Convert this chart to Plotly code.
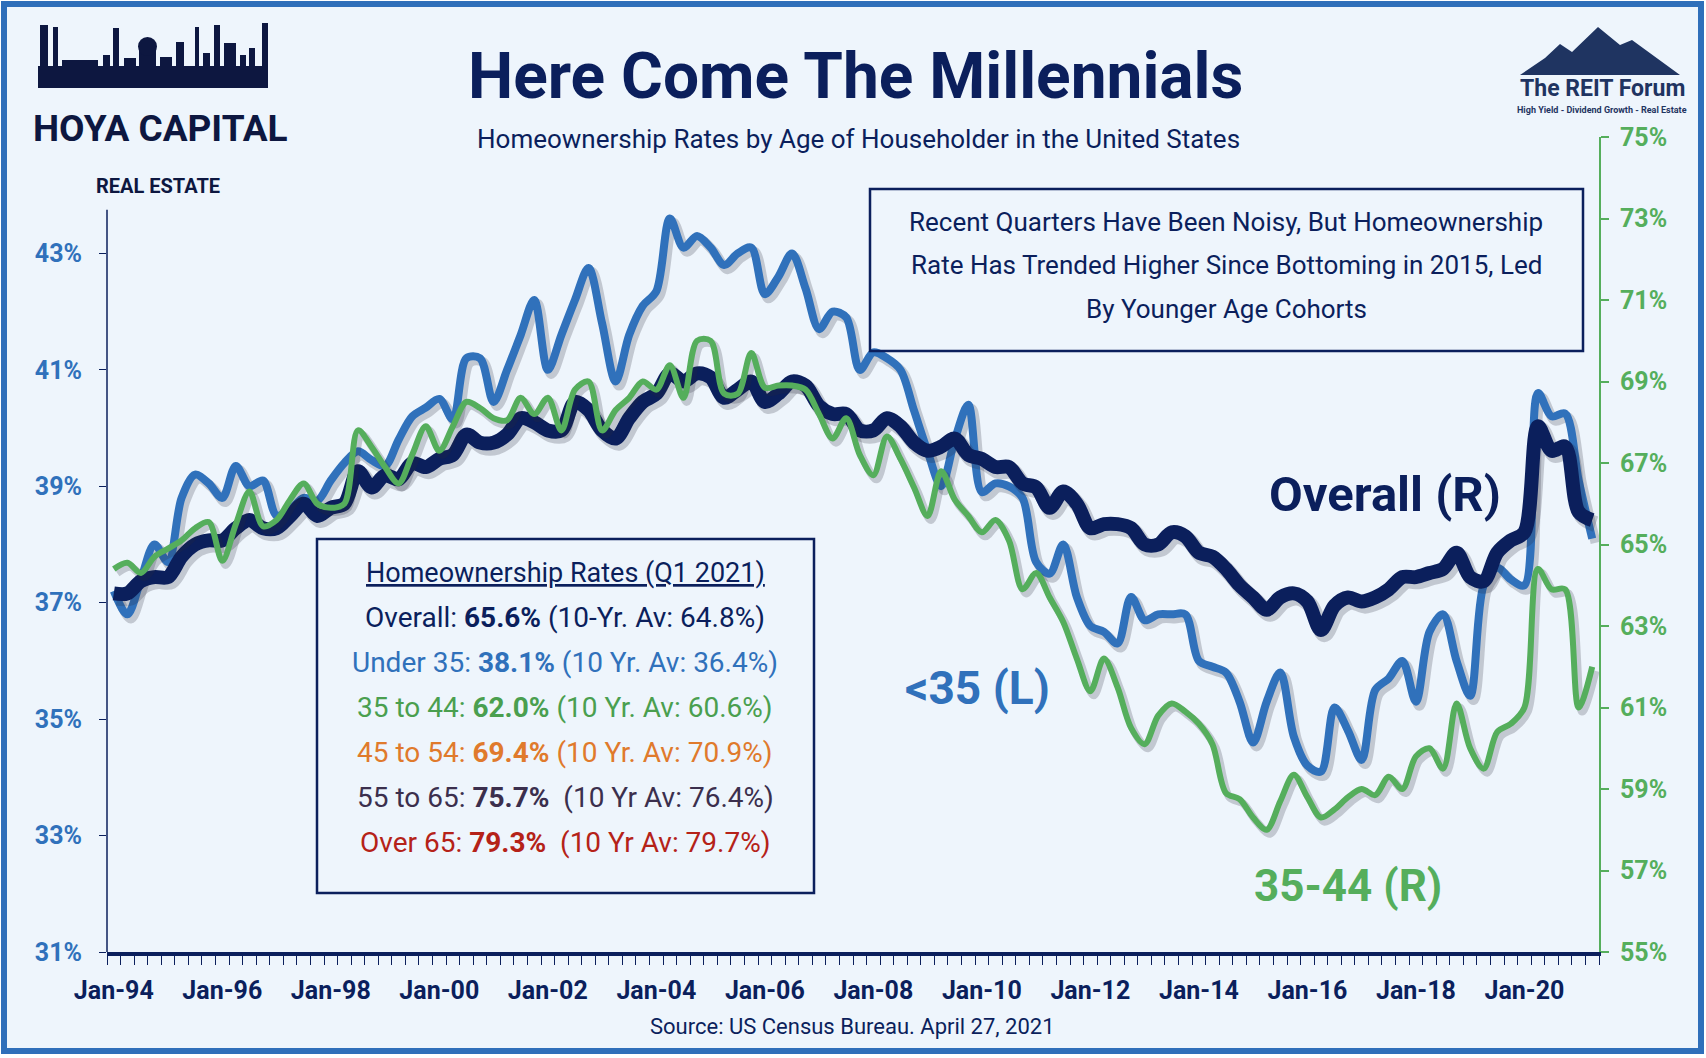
import plotly.graph_objects as go

# ---- data (quarterly) ----
quarter_idx = list(range(110))

overall = [
    63.8, 63.8, 64.1, 64.2, 64.2, 64.7, 65.0, 65.1, 65.1, 65.4,
    65.6, 65.4, 65.4, 65.7, 66.0, 65.7, 65.9, 66.0, 66.8, 66.4,
    66.7, 66.6, 67.0, 66.9, 67.1, 67.2, 67.7, 67.5, 67.5, 67.7,
    68.1, 68.0, 67.8, 67.8, 68.5, 68.3, 67.8, 67.6, 68.1, 68.5,
    68.7, 69.2, 69.0, 69.2, 69.1, 68.6, 68.8, 69.0, 68.5, 68.7,
    69.0, 68.9, 68.4, 68.2, 68.2, 67.8, 67.8, 68.1, 67.9, 67.5,
    67.3, 67.4, 67.6, 67.2, 67.1, 66.9, 66.9, 66.5, 66.4, 65.9,
    66.3, 66.0, 65.4, 65.5, 65.5, 65.4, 65.0, 65.0, 65.3, 65.2,
    64.8, 64.7, 64.4, 64.0, 63.7, 63.4, 63.7, 63.8, 63.6, 62.9,
    63.5, 63.7, 63.6, 63.7, 63.9, 64.2, 64.2, 64.3, 64.4, 64.8,
    64.2, 64.1, 64.8, 65.1, 65.3, 67.9, 67.3, 67.4, 65.8, 65.6,
]

under_35 = [
    37.2, 36.8, 37.4, 38.0, 37.7, 38.8, 39.2, 39.05, 38.8, 39.35,
    39.0, 39.1, 38.5, 38.6, 38.8, 38.75, 39.1, 39.4, 39.6, 39.45,
    39.35, 39.8, 40.2, 40.35, 40.5, 40.15, 41.2, 41.2, 40.45, 41.0,
    41.6, 42.2, 41.0, 41.6, 42.2, 42.75, 41.8, 40.8, 41.6, 42.1,
    42.35, 43.6, 43.1, 43.3, 43.1, 42.8, 43.0, 43.1, 42.3, 42.6,
    43.0, 42.4, 41.7, 42.0, 41.9, 41.0, 41.3, 41.2, 41.0, 40.3,
    39.6, 39.0, 39.8, 40.4, 38.9, 39.05, 39.0, 38.8, 37.7, 37.5,
    38.0, 37.1, 36.6, 36.5, 36.3, 37.1, 36.7, 36.8, 36.8, 36.8,
    36.0, 35.9, 35.8, 35.3, 34.6, 35.3, 35.8, 34.7, 34.2, 34.1,
    35.2, 34.8, 34.3, 35.5, 35.7, 36.0, 35.3, 36.5, 36.8, 36.0,
    35.4, 37.3, 37.6, 37.4, 37.3, 40.6, 40.2, 40.25, 39.1, 38.1,
]

age_35_44 = [
    64.4, 64.55, 64.3, 64.7, 64.9, 65.1, 65.4, 65.55, 64.6, 65.5,
    66.3, 65.45, 65.6, 66.1, 66.5, 66.0, 65.9, 66.0, 67.8, 67.4,
    66.9, 66.5, 67.2, 67.9, 67.3, 67.9, 68.5, 68.35, 68.1, 68.05,
    68.6, 68.2, 68.6, 67.8, 68.8, 69.0, 67.8, 68.3, 68.6, 69.0,
    68.8, 69.4, 68.6, 70.0, 70.0, 68.7, 68.7, 69.7, 68.85, 68.9,
    68.9, 68.8, 68.2, 67.6, 68.1, 67.2, 66.7, 67.65, 67.1, 66.4,
    65.7, 66.8, 66.1, 65.7, 65.3, 65.6, 65.1, 63.9, 64.3, 63.7,
    63.1, 62.2, 61.4, 62.2, 61.5, 60.5, 60.1, 60.8, 61.1, 60.9,
    60.6, 60.1, 58.9, 58.75, 58.3, 58.0, 58.7, 59.35, 58.8, 58.3,
    58.5, 58.8, 59.0, 58.85, 59.3, 59.0, 59.8, 60.0, 59.5, 61.1,
    60.0, 59.5, 60.4, 60.6, 61.0, 64.4, 63.9, 63.9, 61.0, 62.0,
]

x_label_pos = list(range(0, 105, 8))
x_labels = ["Jan-94", "Jan-96", "Jan-98", "Jan-00", "Jan-02", "Jan-04", "Jan-06",
            "Jan-08", "Jan-10", "Jan-12", "Jan-14", "Jan-16", "Jan-18", "Jan-20"]
left_ticks = [31, 33, 35, 37, 39, 41, 43]
right_ticks = [55, 57, 59, 61, 63, 65, 67, 69, 71, 73, 75]

table_groups = ["Overall", "Under 35", "35 to 44", "45 to 54", "55 to 65", "Over 65"]
table_current = [65.6, 38.1, 62.0, 69.4, 75.7, 79.3]
table_avg = [64.8, 36.4, 60.6, 70.9, 76.4, 79.7]
table_avg_label = ["10-Yr. Av", "10 Yr. Av", "10 Yr. Av", "10 Yr. Av", "10 Yr Av", "10 Yr Av"]

note_lines = ["Recent Quarters Have Been Noisy, But Homeownership",
              "Rate Has Trended Higher Since Bottoming in 2015, Led",
              "By Younger Age Cohorts"]

# ---- styles ----
W, H = 1706, 1058
NAVY = "#0b1f5c"
BLUE = "#3071bb"
GREEN = "#55ae5c"
GREEN_TXT = "#4a9f4f"
ORANGE = "#e07a2c"
PURPLE = "#3b2f4d"
RED = "#b52218"
LOGO = "#0d1740"
FONT = "Roboto, Liberation Sans, sans-serif"
SHADOW = "rgba(40,40,60,0.22)"


def px(x):
    return x / W


def py(y):
    return 1 - y / H


fig = go.Figure()

# shadows first, then lines (blue on left axis, navy + green on right axis)
fig.add_trace(go.Scatter(x=[q + 0.25 for q in quarter_idx], y=[v - 0.07 for v in under_35],
                         mode="lines", line=dict(color=SHADOW, width=10, shape="spline", smoothing=0.9),
                         hoverinfo="skip", yaxis="y"))
fig.add_trace(go.Scatter(x=quarter_idx, y=under_35, mode="lines", name="<35",
                         line=dict(color=BLUE, width=8, shape="spline", smoothing=0.9), yaxis="y"))
fig.add_trace(go.Scatter(x=[q + 0.25 for q in quarter_idx], y=[v - 0.1 for v in overall],
                         mode="lines", line=dict(color=SHADOW, width=16, shape="spline", smoothing=0.9),
                         hoverinfo="skip", yaxis="y2"))
fig.add_trace(go.Scatter(x=quarter_idx, y=overall, mode="lines", name="Overall",
                         line=dict(color=NAVY, width=14, shape="spline", smoothing=0.9), yaxis="y2"))
fig.add_trace(go.Scatter(x=[q + 0.25 for q in quarter_idx], y=[v - 0.1 for v in age_35_44],
                         mode="lines", line=dict(color=SHADOW, width=8, shape="spline", smoothing=0.9),
                         hoverinfo="skip", yaxis="y2"))
fig.add_trace(go.Scatter(x=quarter_idx, y=age_35_44, mode="lines", name="35-44",
                         line=dict(color=GREEN, width=6, shape="spline", smoothing=0.9), yaxis="y2"))

shapes = [
    # outer frame
    dict(type="rect", xref="paper", yref="paper", x0=px(4), x1=px(1701), y0=py(1051), y1=py(4),
         line=dict(color="#2f6fba", width=6), fillcolor="#eef5fc", layer="below"),
    # left axis line (top hidden behind the logo in the original)
    dict(type="line", xref="paper", yref="y", x0=px(107), x1=px(107), y0=31, y1=43.75,
         line=dict(color=NAVY, width=1.5)),
    # note box
    dict(type="rect", xref="paper", yref="paper", x0=px(870), x1=px(1583), y0=py(351), y1=py(189),
         line=dict(color=NAVY, width=2.5)),
    # table box
    dict(type="rect", xref="paper", yref="paper", x0=px(317), x1=px(814), y0=py(893), y1=py(539),
         line=dict(color=NAVY, width=2.5)),
]

# skyline of the logo: base band plus towers (x0, x1, top) in pixels
shapes.append(dict(type="rect", xref="paper", yref="paper", x0=px(38), x1=px(268),
                   y0=py(88), y1=py(66), fillcolor=LOGO, line=dict(width=0)))
skyline = [(40, 48, 25), (53, 58, 27), (62, 98, 60), (103, 110, 55),
           (113, 119, 28), (124, 136, 58), (139, 156, 46), (160, 172, 57), (176, 184, 42),
           (195, 199, 27), (203, 210, 53), (214, 220, 25), (224, 236, 43), (240, 246, 55),
           (249, 255, 48), (262, 268, 23)]
path = ""
for x0, x1, top in skyline:
    path += f"M{px(x0)},{py(67)} L{px(x0)},{py(top)} L{px(x1)},{py(top)} L{px(x1)},{py(67)} Z "
shapes.append(dict(type="path", xref="paper", yref="paper", path=path,
                   fillcolor=LOGO, line=dict(width=0)))
# capitol dome
shapes.append(dict(type="circle", xref="paper", yref="paper", x0=px(138), x1=px(157),
                   y0=py(56), y1=py(37), fillcolor=LOGO, line=dict(width=0)))

# mountain logo
mpts = [(1520, 75), (1545, 58), (1560, 44), (1572, 52), (1598, 27), (1620, 45), (1632, 40), (1680, 75)]
mpath = "M" + " L".join(f"{px(a)},{py(b)}" for a, b in mpts) + " Z"
shapes.append(dict(type="path", xref="paper", yref="paper", path=mpath,
                   fillcolor="#1f3461", line=dict(width=0)))

annotations = []


def note(text, x, y, size, color, bold=False):
    annotations.append(dict(text=f"<b>{text}</b>" if bold else text, x=px(x), y=py(y),
                            xref="paper", yref="paper", showarrow=False,
                            xanchor="center", yanchor="middle",
                            font=dict(family=FONT, size=size, color=color)))


note("Here Come The Millennials", 855, 76, 64, NAVY, bold=True)
note("Homeownership Rates by Age of Householder in the United States", 858, 139, 26, NAVY)
note("Source: US Census Bureau. April 27, 2021", 852, 1026, 22, NAVY)

note("HOYA CAPITAL", 160, 128, 37, LOGO, bold=True)
note("REAL ESTATE", 158, 186, 20, LOGO, bold=True)
note("The REIT Forum", 1602, 88, 23, "#1f3461", bold=True)
note("High Yield - Dividend Growth - Real Estate", 1602, 110, 9, "#1f3461", bold=True)

for line, yy in zip(note_lines, [222, 265, 309]):
    note(line, 1226, yy, 26, NAVY)

note("<u>Homeownership Rates (Q1 2021)</u>", 565, 573, 27, NAVY)
table_colors = [NAVY, BLUE, GREEN_TXT, ORANGE, PURPLE, RED]
gaps = [" ", " ", " ", " ", "\u00a0 ", "\u00a0 "]
for i, yy in enumerate([617, 662, 707, 752, 797, 842]):
    txt = (f"{table_groups[i]}: <b>{table_current[i]:.1f}%</b>{gaps[i]}"
           f"({table_avg_label[i]}: {table_avg[i]:.1f}%)")
    note(txt, 565, yy, 28, table_colors[i])

note("Overall (R)", 1385, 494, 49, NAVY, bold=True)
note("<35 (L)", 977, 688, 46, BLUE, bold=True)
note("35-44 (R)", 1348, 886, 44, GREEN, bold=True)

fig.update_layout(
    width=W, height=H,
    margin=dict(l=0, r=0, t=0, b=0, autoexpand=False),
    paper_bgcolor="white", plot_bgcolor="rgba(0,0,0,0)",
    showlegend=False,
    shapes=shapes, annotations=annotations,
    xaxis=dict(domain=[px(107), px(1599)], range=[-0.5, 109.5], automargin=False,
               tickmode="array", tickvals=x_label_pos, ticktext=x_labels, ticks="",
               showgrid=False, zeroline=False, showline=True, linecolor=NAVY, linewidth=4,
               tickfont=dict(family=FONT, size=25, color=NAVY, weight="bold"), ticklabelstandoff=13,
               minor=dict(ticks="outside", tick0=-0.5, dtick=1, ticklen=9,
                          tickcolor=NAVY, tickwidth=1.2, showgrid=False)),
    yaxis=dict(domain=[py(952), py(137)], range=[31, 45], automargin=False,
               tickmode="array", tickvals=left_ticks, ticktext=[f"{v}%" for v in left_ticks],
               ticks="outside", ticklen=7, tickcolor=NAVY, tickwidth=1.2,
               showline=False, showgrid=False, zeroline=False, ticklabelstandoff=12,
               tickfont=dict(family=FONT, size=25, color=BLUE, weight="bold")),
    yaxis2=dict(overlaying="y", side="right", range=[55, 75], automargin=False,
                tickmode="array", tickvals=right_ticks, ticktext=[f"{v}%" for v in right_ticks],
                ticks="outside", ticklen=8, tickcolor=GREEN, tickwidth=1.5,
                showline=True, linecolor=GREEN, linewidth=2, showgrid=False, zeroline=False,
                ticklabelstandoff=6,
                tickfont=dict(family=FONT, size=25, color=GREEN, weight="bold")),
)

fig.write_html("out.html", config={"displayModeBar": False},
               post_script="document.body.style.margin='0';document.body.style.overflow='hidden';")
